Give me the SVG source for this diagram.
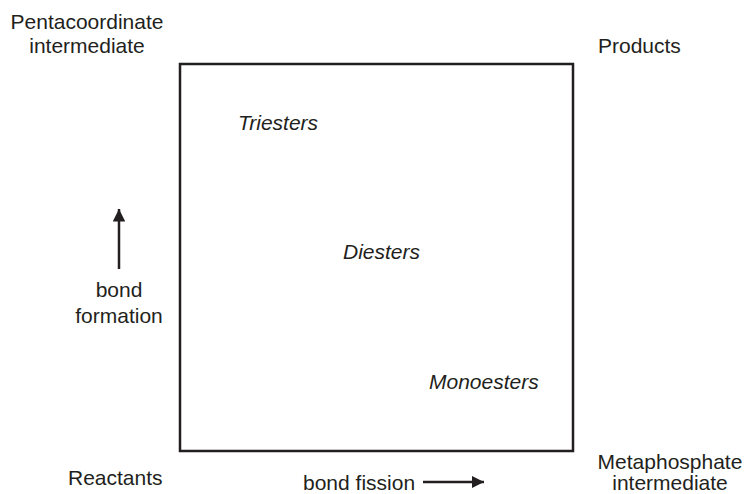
<svg xmlns="http://www.w3.org/2000/svg" width="746" height="494" viewBox="0 0 746 494">
  <defs>
    <style>
      text { font-family: "Liberation Sans", Arial, sans-serif; font-size: 21px; fill: #231f20; }
      .it { font-style: italic; }
      .mid { text-anchor: middle; }
      .frame { fill: none; stroke: #231f20; stroke-width: 2.5; }
      .axis { stroke: #231f20; stroke-width: 2.5; fill: none; }
    </style>
    <marker id="head" viewBox="0 0 10 10" refX="10" refY="5" markerWidth="5" markerHeight="5" markerUnits="strokeWidth" orient="auto">
      <path d="M0,0 L10,5 L0,10 z" fill="#231f20"/>
    </marker>
  </defs>
  <rect width="746" height="494" fill="#ffffff"/>

  <!-- reaction coordinate square -->
  <g id="frame">
    <rect class="frame" x="180" y="64" width="393" height="387"/>
  </g>

  <!-- corner states -->
  <g id="pentacoordinate">
    <text class="mid" x="87" y="29">Pentacoordinate</text>
    <text class="mid" x="87" y="53">intermediate</text>
  </g>
  <g id="products">
    <text x="598" y="53">Products</text>
  </g>
  <g id="reactants">
    <text x="68" y="485">Reactants</text>
  </g>
  <g id="metaphosphate">
    <text class="mid" x="670" y="469">Metaphosphate</text>
    <text class="mid" x="670" y="490">intermediate</text>
  </g>

  <!-- ester classes -->
  <g id="triesters">
    <text class="it" x="238" y="130">Triesters</text>
  </g>
  <g id="diesters">
    <text class="it" x="343" y="259">Diesters</text>
  </g>
  <g id="monoesters">
    <text class="it" x="429" y="389">Monoesters</text>
  </g>

  <!-- axis labels -->
  <g id="bond-formation">
    <text class="mid" x="119" y="297">bond</text>
    <text class="mid" x="119" y="323">formation</text>
  </g>
  <g id="bond-fission">
    <text x="303" y="490">bond fission</text>
  </g>

  <g id="connectors">
    <line class="axis" x1="119" y1="269" x2="119" y2="209" marker-end="url(#head)"/>
    <line class="axis" x1="423" y1="482" x2="484" y2="482" marker-end="url(#head)"/>
  </g>
</svg>
